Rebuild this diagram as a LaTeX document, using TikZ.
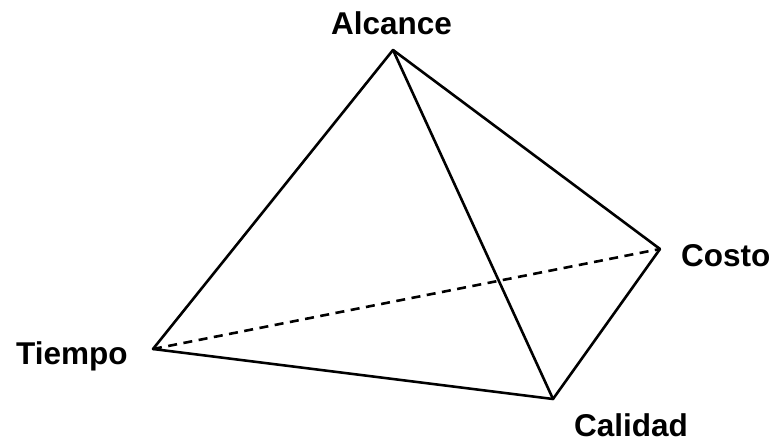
\documentclass[tikz,border=0pt]{standalone}
\usepackage{fontspec}
\setmainfont{Liberation Sans}
\begin{document}
\begin{tikzpicture}[x=1pt,y=1pt,
  edge/.style={line width=2.6pt,line join=round,line cap=round},
  hidden/.style={line width=2.6pt,dash pattern=on 9pt off 6.5pt},
  lbl/.style={inner sep=0pt,anchor=base west,text depth=0pt,font=\fontsize{31.5}{31.5}\selectfont\bfseries}]
\useasboundingbox (0,0) rectangle (775,441);
\coordinate (A) at (393,391);
\coordinate (C) at (660,192);
\coordinate (T) at (153,92);
\coordinate (Q) at (553,42);
\draw[hidden] (T) -- (C);
\draw[edge] (T) -- (A) -- (C) -- (Q) -- cycle;
\draw[edge] (A) -- (Q);
\node[lbl] (la) at (331,406) {Alcance};
\node[lbl] (lc) at (681,174) {Costo};
\node[lbl] (lt) at (16,76) {Tiempo};
\node[lbl] (lq) at (574,5) {Calidad};
\end{tikzpicture}
\end{document}
